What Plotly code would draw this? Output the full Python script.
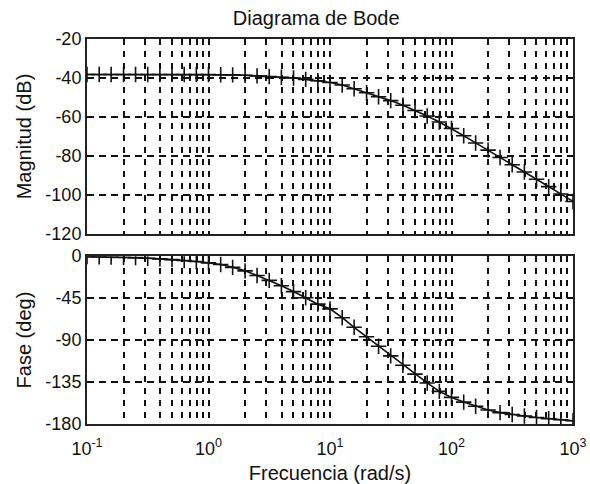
import plotly.graph_objects as go

# Frequency points (rad/s)
freq = [0.1, 0.126, 0.158, 0.2, 0.251, 0.316, 0.398, 0.501, 0.631, 0.794,
        1.0, 1.26, 1.58, 2.0, 2.51, 3.16, 3.98, 5.01, 6.31, 7.94,
        10.0, 12.6, 15.8, 20.0, 25.1, 31.6, 39.8, 50.1, 63.1, 79.4,
        100.0, 126, 158, 200, 251, 316, 398, 501, 631, 794, 1000.0]

# Magnitude (dB)
magnitude = [-38.2, -38.2, -38.2, -38.2, -38.2, -38.2, -38.2, -38.2, -38.2, -38.2,
             -38.2, -38.3, -38.4, -38.6, -38.9, -39.2, -39.6, -40.0, -40.7, -41.4,
             -42.3, -43.6, -45.5, -47.6, -49.6, -51.6, -54.0, -56.7, -59.5, -62.6,
             -65.9, -69.6, -73.3, -77.0, -80.8, -84.5, -88.2, -91.9, -95.7, -99.5, -103.3]

# Phase (deg)
phase = [-0.5, -0.7, -0.9, -1.2, -1.6, -2.2, -2.9, -3.7, -4.6, -5.8,
         -7.2, -9.0, -12.0, -15.8, -20.8, -26.0, -31.8, -38.0, -44.6, -51.5,
         -56.5, -66.0, -76.3, -86.5, -96.7, -107.0, -117.0, -126.5, -136.0, -145.0,
         -151.5, -156.5, -161.0, -165.0, -167.8, -169.8, -171.5, -173.0, -174.3, -175.5, -176.5]

x_tickvals = [0.1, 1, 10, 100, 1000]
x_ticktext = ["10<sup>-1</sup>", "10<sup>0</sup>", "10<sup>1</sup>", "10<sup>2</sup>", "10<sup>3</sup>"]
mag_ticks = [-120, -100, -80, -60, -40, -20]
mag_ticktext = ["-120", "-100", "-80", "-60", "-40", "-20"]
phase_ticks = [-180, -135, -90, -45, 0]
phase_ticktext = ["-180", "-135", "-90", "-45", "0"]

FONT = "Liberation Sans, Arial, sans-serif"
INK = "#111"

fig = go.Figure()
trace_style = dict(mode="lines+markers",
                   line=dict(color=INK, width=1.6),
                   marker=dict(symbol="cross-thin", size=11, line=dict(color=INK, width=1.6)),
                   showlegend=False)
fig.add_trace(go.Scatter(x=freq, y=magnitude, xaxis="x", yaxis="y", **trace_style))
fig.add_trace(go.Scatter(x=freq, y=phase, xaxis="x2", yaxis="y2", **trace_style))

xcommon = dict(type="log", range=[-1, 3], tickvals=x_tickvals, ticktext=x_ticktext,
               showline=True, mirror=True, linecolor="#222", linewidth=2,
               ticks="", zeroline=False, automargin=False,
               showgrid=True, gridcolor=INK, gridwidth=1.6, griddash="6px,6px",
               minor=dict(dtick="D1", showgrid=True, gridcolor=INK, gridwidth=1.6,
                          griddash="6px,6px", ticks=""),
               tickfont=dict(family=FONT, size=18, color=INK))

ycommon = dict(showline=True, mirror=True, linecolor="#222", linewidth=2, zeroline=False,
               ticks="", automargin=False, tickfont=dict(family=FONT, size=18, color=INK),
               showgrid=True, gridcolor=INK, gridwidth=1.6, griddash="7px,5px")

fig.update_layout(
    width=590, height=484,
    margin=dict(l=87, r=17, t=39, b=60),
    paper_bgcolor="white", plot_bgcolor="white",
    title=dict(text="Diagrama de Bode", x=0.536, xanchor="center", y=0.963, yanchor="middle",
               font=dict(family=FONT, size=20, color=INK)),
    xaxis=dict(domain=[0, 1], anchor="y", showticklabels=False, **xcommon),
    xaxis2=dict(domain=[0, 1], anchor="y2", matches="x", ticklabelstandoff=7,
                title=dict(text="Frecuencia (rad/s)", font=dict(family=FONT, size=20, color=INK),
                           standoff=14),
                **xcommon),
    yaxis=dict(domain=[0.4935, 1], range=[-120, -20], tickvals=mag_ticks, ticktext=mag_ticktext,
               title=dict(text="Magnitud (dB)", font=dict(family=FONT, size=20, color=INK),
                          standoff=8),
               **ycommon),
    yaxis2=dict(domain=[0, 0.436], range=[-180, 0], tickvals=phase_ticks, ticktext=phase_ticktext,
                title=dict(text="Fase (deg)", font=dict(family=FONT, size=20, color=INK),
                           standoff=8),
                **ycommon),
)

# remove the page's default body margin so the 590x484 figure fills the window exactly
fig.write_html("out.html",
               config={"displayModeBar": False},
               post_script="document.body.style.margin='0';document.body.style.overflow='hidden';")
